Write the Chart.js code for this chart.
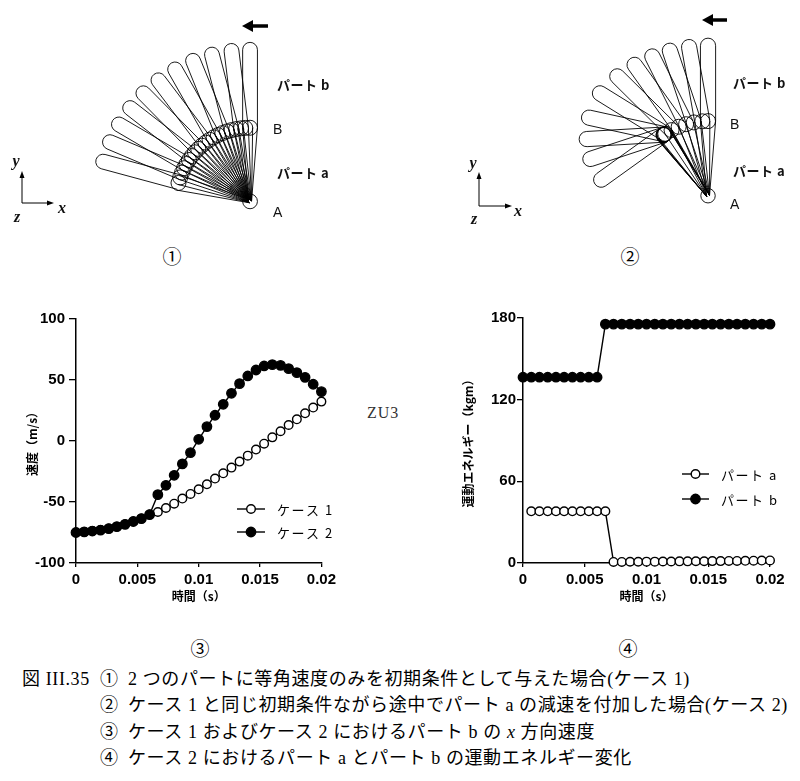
<!DOCTYPE html>
<html lang="ja">
<head>
<meta charset="utf-8">
<title>図III.35</title>
<script src="https://cdn.jsdelivr.net/npm/chart.js@4.4.0/dist/chart.umd.min.js"></script>
<style>
  html, body { margin: 0; padding: 0; background: #fff; }
  #page { position: relative; width: 800px; height: 781px; overflow: hidden; color: #111;
          font-family: "Noto Sans CJK JP", sans-serif; }
  .box { position: absolute; }
  .lbl { position: absolute; transform: translate(0, -50%); white-space: nowrap; line-height: 1; }
  .part { font-weight: 700; font-size: 13px; letter-spacing: 0.5px; }
  .pt { font-family: "Liberation Sans", Arial, sans-serif; font-size: 14px; }
  .ax { font-family: "Liberation Serif", serif; font-style: italic; font-weight: 700; font-size: 16px;
        transform: translate(-50%, -50%); }
  .num { font-family: "Noto Sans CJK JP", sans-serif; font-size: 19px; color: #000;
         transform: translate(-50%, -50%); }
  .cap { font-family: "Liberation Serif", "Noto Sans CJK JP", serif; font-size: 18px; letter-spacing: 0.6px; color: #000; }
  .zu { font-family: "Liberation Serif", serif; font-size: 16px; letter-spacing: 1px; color: #333; }
</style>
</head>
<body>
<div id="page">
  <canvas id="fig1" class="box" style="left:80px;top:20px" width="220" height="210"></canvas>
  <canvas id="fig2" class="box" style="left:460px;top:10px" width="330" height="220"></canvas>
  <canvas id="speedChart" class="box" style="left:0;top:300px" width="340" height="330"></canvas>
  <canvas id="energyChart" class="box" style="left:440px;top:300px" width="360" height="330"></canvas>

  <svg class="box" style="left:0;top:0" width="800" height="240">
    <!-- turning direction -->
    <path d="M268 26 H251" stroke="#000" stroke-width="3.5"/>
    <polygon points="242,26 253,20 253,32" fill="#000"/>
    <path d="M727 20 H711" stroke="#000" stroke-width="3.5"/>
    <polygon points="702,20 713,14 713,26" fill="#000"/>
    <!-- coordinate triads -->
    <path d="M22 203 V176 M22 203 H49" stroke="#000" stroke-width="1"/>
    <polygon points="22,171 19.5,178 24.5,178" fill="#000"/>
    <polygon points="54,203 47,200.5 47,205.5" fill="#000"/>
    <path d="M479 206 V177 M479 206 H507" stroke="#000" stroke-width="1"/>
    <polygon points="479,172 476.5,179 481.5,179" fill="#000"/>
    <polygon points="512,206 505,203.5 505,208.5" fill="#000"/>
  </svg>

  <div class="lbl ax" style="left:16px;top:161px">y</div>
  <div class="lbl ax" style="left:62px;top:208px">x</div>
  <div class="lbl ax" style="left:17px;top:217px">z</div>
  <div class="lbl ax" style="left:473px;top:163px">y</div>
  <div class="lbl ax" style="left:518px;top:211px">x</div>
  <div class="lbl ax" style="left:474px;top:219px">z</div>

  <div class="lbl part" style="left:277px;top:84px">パート b</div>
  <div class="lbl pt" style="left:273px;top:129px">B</div>
  <div class="lbl part" style="left:277px;top:172px">パート a</div>
  <div class="lbl pt" style="left:273px;top:212px">A</div>
  <div class="lbl part" style="left:733px;top:82px">パート b</div>
  <div class="lbl pt" style="left:730px;top:124px">B</div>
  <div class="lbl part" style="left:733px;top:170px">パート a</div>
  <div class="lbl pt" style="left:730px;top:204px">A</div>

  <div class="lbl num" style="left:172px;top:255px">①</div>
  <div class="lbl num" style="left:630px;top:255px">②</div>
  <div class="lbl num" style="left:200px;top:647px">③</div>
  <div class="lbl num" style="left:628px;top:647px">④</div>

  <div class="lbl zu" style="left:367px;top:413px">ZU3</div>

  <div class="lbl cap" style="left:22px;top:679px">図 III.35</div>
  <div class="lbl cap" style="left:100px;top:679px">①</div>
  <div class="lbl cap" style="left:128px;top:679px">2 つのパートに等角速度のみを初期条件として与えた場合(ケース 1)</div>
  <div class="lbl cap" style="left:100px;top:705px">②</div>
  <div class="lbl cap" style="left:128px;top:705px">ケース 1 と同じ初期条件ながら途中でパート a の減速を付加した場合(ケース 2)</div>
  <div class="lbl cap" style="left:100px;top:732px">③</div>
  <div class="lbl cap" style="left:128px;top:732px">ケース 1 およびケース 2 におけるパート b の <i>x</i> 方向速度</div>
  <div class="lbl cap" style="left:100px;top:758px">④</div>
  <div class="lbl cap" style="left:128px;top:758px">ケース 2 におけるパート a とパート b の運動エネルギー変化</div>
</div>

<script>
// ---- ③ and ④ : time series (s) ----
const timeS = [0, 0.00067, 0.00133, 0.002, 0.00267, 0.00333, 0.004, 0.00467, 0.00533, 0.006,
  0.00667, 0.00733, 0.008, 0.00867, 0.00933, 0.01, 0.01067, 0.01133, 0.012, 0.01267,
  0.01333, 0.014, 0.01467, 0.01533, 0.016, 0.01667, 0.01733, 0.018, 0.01867, 0.01933, 0.02];

// x velocity of part b (m/s)
const case1Speed = [-75, -74.5, -73.8, -73, -71.8, -70.2, -68.3, -66, -63.6, -60.3,
  -58.2, -54.9, -51.4, -47.2, -43.4, -39.6, -35.5, -30.8, -26.5, -21.8,
  -16.9, -12, -7, -2.2, 3, 8, 13.1, 17.8, 22.7, 27.4, 32.3];
const case2Speed = [-75, -74.5, -73.8, -73, -71.8, -70.2, -68.3, -66, -63.6, -60.3,
  -44, -36.3, -28.1, -18.8, -9.5, 1.4, 11.8, 21.1, 30.1, 39.1,
  47, 53.3, 58.2, 61.5, 62.6, 62, 59.3, 56, 52.2, 46.5, 40.5];

// kinetic energy, case 2 (kgm)
const partAEnergy = [null, 38, 38, 38, 38, 38, 38, 38, 38, 38,
  38, 0.8, 0.8, 0.9, 0.9, 1.0, 1.0, 1.1, 1.1, 1.2,
  1.2, 1.3, 1.3, 1.4, 1.4, 1.5, 1.5, 1.6, 1.7, 1.8, 1.9];
const partBEnergy = [136.5, 136.5, 136.5, 136.5, 136.5, 136.5, 136.5, 136.5, 136.5, 136.5,
  175.5, 175.5, 175.5, 175.5, 175.5, 175.5, 175.5, 175.5, 175.5, 175.5,
  175.5, 175.5, 175.5, 175.5, 175.5, 175.5, 175.5, 175.5, 175.5, 175.5, 175.5];

const timeTicks = [0, 0.005, 0.01, 0.015, 0.02];
const timeTickLabels = ['0', '0.005', '0.01', '0.015', '0.02'];
const speedTicks = [-100, -50, 0, 50, 100];
const energyTicks = [0, 60, 120, 180];

// ---- ① and ② : link angles in degrees from vertical (+ = towards -x) ----
const fig1Joint = [0, 3.7, 7, 10.8, 14.5, 18.2, 22, 25.8, 29.5, 33.2, 37,
  40.8, 44.5, 48.2, 52, 55.8, 59.5, 63.2, 67, 71, 75.5];
const fig1PartA = [0, 7, 14.5, 22, 29.5, 37, 44.5, 52, 59.5, 67, 74.8];
const fig1PartB = [0, 7, 14.5, 22, 29.5, 37, 44.5, 52, 59.5, 67, 74.8];
const fig2PartA = [0, 4.3, 10.7, 16.6, 22.5, 28.4, 33.9, 34.5, 35, 35.3, 35.5];
const fig2PartB = [0, 9.8, 18, 25.9, 34.7, 44.5, 57.5, 77.3, 93.4, 108.7, 126.4];

Chart.defaults.color = '#000';
Chart.defaults.animation = false;

const tickFont = { family: "'Liberation Sans Narrow', 'Liberation Sans', sans-serif", size: 15, weight: 'bold' };
const titleFont = { family: "'Noto Sans CJK JP', sans-serif", size: 12, weight: 'bold' };

const toRad = d => d * Math.PI / 180;
const unitDir = d => ({ x: -Math.sin(toRad(d)), y: Math.cos(toRad(d)) });

// draws part a (tapered) and part b (capsule) for every frame
function linkagePlugin(jointAngles, partA, partB, spec) {
  return {
    id: 'linkage',
    afterDatasetsDraw(chart) {
      const ctx = chart.ctx;
      const sx = chart.scales.x, sy = chart.scales.y;
      const px = p => ({ x: sx.getPixelForValue(p.x), y: sy.getPixelForValue(p.y) });
      const unit = sx.getPixelForValue(1) - sx.getPixelForValue(0);
      const hw = spec.halfWidth * unit;
      const A = px({ x: 0, y: 0 });
      const jointAt = a => { const d = unitDir(a); return { x: spec.lenA * d.x, y: spec.lenA * d.y }; };

      ctx.save();
      ctx.strokeStyle = '#000';
      ctx.lineWidth = 0.9;

      jointAngles.forEach(a => {
        const B = px(jointAt(a));
        const L = Math.hypot(B.x - A.x, B.y - A.y);
        const nx = -(B.y - A.y) / L, ny = (B.x - A.x) / L;
        ctx.beginPath();
        ctx.moveTo(A.x + nx * spec.rootPx, A.y + ny * spec.rootPx);
        ctx.lineTo(B.x + nx * hw, B.y + ny * hw);
        ctx.moveTo(A.x - nx * spec.rootPx, A.y - ny * spec.rootPx);
        ctx.lineTo(B.x - nx * hw, B.y - ny * hw);
        ctx.stroke();
      });

      partA.forEach((a, k) => {
        const j = jointAt(a);
        const d = unitDir(partB[k]);
        const B = px(j);
        const T = px({ x: j.x + spec.lenB * d.x, y: j.y + spec.lenB * d.y });
        const L = Math.hypot(T.x - B.x, T.y - B.y);
        const ux = (T.x - B.x) / L, uy = (T.y - B.y) / L;
        const nx = -uy, ny = ux;
        const ang = Math.atan2(ny, nx);
        ctx.beginPath();
        ctx.moveTo(B.x + nx * hw, B.y + ny * hw);
        ctx.lineTo(T.x + nx * hw, T.y + ny * hw);
        ctx.arc(T.x, T.y, hw, ang, ang - Math.PI, true);
        ctx.lineTo(B.x - nx * hw, B.y - ny * hw);
        ctx.stroke();
      });

      ctx.beginPath();
      ctx.arc(A.x, A.y, spec.hub * unit, 0, Math.PI * 2);
      ctx.stroke();
      ctx.restore();
    }
  };
}

function linkageChart(id, jointAngles, partA, partB, spec, range) {
  return new Chart(document.getElementById(id), {
    type: 'scatter',
    data: {
      datasets: [{
        data: jointAngles.map(a => { const d = unitDir(a); return { x: spec.lenA * d.x, y: spec.lenA * d.y }; }),
        pointRadius: 7.5,
        pointBackgroundColor: 'rgba(0,0,0,0)',
        pointBorderColor: '#000',
        pointBorderWidth: 0.9,
        clip: false
      }]
    },
    options: {
      responsive: false,
      events: [],
      layout: { padding: 0 },
      plugins: { legend: { display: false }, tooltip: { enabled: false } },
      scales: {
        x: { type: 'linear', display: false, min: range.x0, max: range.x1 },
        y: { type: 'linear', display: false, min: range.y0, max: range.y1 }
      }
    },
    plugins: [linkagePlugin(jointAngles, partA, partB, spec)]
  });
}

linkageChart('fig1', fig1Joint, fig1PartA, fig1PartB,
  { lenA: 1.0, lenB: 1.06, halfWidth: 0.1, hub: 0.1, rootPx: 1.5 },
  { x0: -2.1875, x1: 0.5625, y0: -0.275, y1: 2.35 });
linkageChart('fig2', fig2PartA, fig2PartA, fig2PartB,
  { lenA: 1.01, lenB: 1.02, halfWidth: 0.1, hub: 0.095, rootPx: 1.5 },
  { x0: -3.156, x1: 0.969, y0: -0.35, y1: 2.4 });

// legend drawn inside the plot
const insideLegend = {
  id: 'insideLegend',
  afterDraw(chart, args, opts) {
    const ctx = chart.ctx;
    ctx.save();
    ctx.font = "13px 'Noto Sans CJK JP', sans-serif";
    ctx.textBaseline = 'middle';
    if ('letterSpacing' in ctx) ctx.letterSpacing = '1.5px';
    opts.order.forEach((di, row) => {
      const ds = chart.data.datasets[di];
      const y = opts.y + row * opts.gap;
      ctx.strokeStyle = '#000';
      ctx.lineWidth = ds.borderWidth;
      ctx.beginPath();
      ctx.moveTo(opts.x, y);
      ctx.lineTo(opts.x + opts.len, y);
      ctx.stroke();
      ctx.beginPath();
      ctx.arc(opts.x + opts.len / 2, y, ds.pointRadius, 0, Math.PI * 2);
      ctx.fillStyle = ds.pointBackgroundColor;
      ctx.fill();
      ctx.lineWidth = ds.pointBorderWidth;
      ctx.stroke();
      ctx.fillStyle = '#000';
      ctx.fillText(ds.label, opts.x + opts.len + 12, y + 1);
    });
    ctx.restore();
  }
};

function series(label, values, filled, order) {
  return {
    label,
    data: timeS.map((t, i) => ({ x: t, y: values[i] })),
    borderColor: '#000',
    borderWidth: 1.4,
    pointRadius: filled ? 4.7 : 4.3,
    pointBackgroundColor: filled ? '#000' : '#fff',
    pointBorderColor: '#000',
    pointBorderWidth: 1.4,
    tension: 0,
    clip: false,
    order
  };
}

function axisX(height) {
  return {
    type: 'linear', min: 0, max: 0.02,
    afterFit: s => { s.height = height; },
    afterBuildTicks: s => { s.ticks = timeTicks.map(v => ({ value: v })); },
    ticks: { font: tickFont, padding: 4, maxRotation: 0, autoSkip: false,
             callback: v => timeTickLabels[timeTicks.indexOf(v)] },
    grid: { drawOnChartArea: false, tickLength: 4, color: '#000', lineWidth: 1.3 },
    border: { color: '#000', width: 1.5 },
    title: { display: true, text: '時間（s）', font: titleFont, padding: { bottom: 26 } }
  };
}

function axisY(ticks, width, tickLen, pad, title, titlePad) {
  return {
    type: 'linear', min: ticks[0], max: ticks[ticks.length - 1],
    afterFit: s => { s.width = width; },
    afterBuildTicks: s => { s.ticks = ticks.map(v => ({ value: v })); },
    ticks: { font: tickFont, padding: pad },
    grid: { drawOnChartArea: false, tickLength: tickLen, color: '#000', lineWidth: 1.3 },
    border: { color: '#000', width: 1.5 },
    title: { display: true, text: title, font: titleFont, padding: { top: titlePad } }
  };
}

new Chart(document.getElementById('speedChart'), {
  type: 'line',
  data: {
    datasets: [
      series('ケース 1', case1Speed, false, 2),
      series('ケース 2', case2Speed, true, 1)
    ]
  },
  options: {
    responsive: false,
    events: [],
    layout: { padding: { left: 0, top: 19, right: 18, bottom: 0 } },
    plugins: {
      legend: { display: false },
      tooltip: { enabled: false },
      insideLegend: { x: 237, y: 209, gap: 23, len: 28, order: [0, 1] }
    },
    scales: {
      x: axisX(67),
      y: axisY(speedTicks, 76, 7, 4, '速度（m/s）', 25)
    }
  },
  plugins: [insideLegend]
});

new Chart(document.getElementById('energyChart'), {
  type: 'line',
  data: {
    datasets: [
      series('パート a', partAEnergy, false, 2),
      series('パート b', partBEnergy, true, 1)
    ]
  },
  options: {
    responsive: false,
    events: [],
    layout: { padding: { left: 0, top: 18, right: 30, bottom: 0 } },
    plugins: {
      legend: { display: false },
      tooltip: { enabled: false },
      insideLegend: { x: 242, y: 174, gap: 25, len: 27, order: [0, 1] }
    },
    scales: {
      x: axisX(67),
      y: axisY(energyTicks, 83, 6, 1, '運動エネルギー（kgm）', 21)
    }
  },
  plugins: [insideLegend]
});
</script>
</body>
</html>
